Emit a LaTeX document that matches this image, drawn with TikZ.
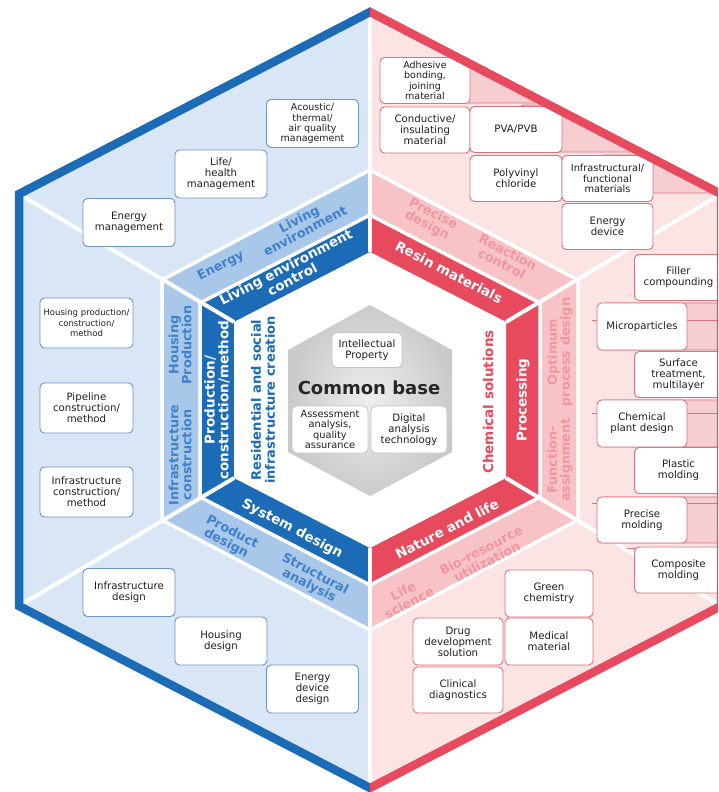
\documentclass[tikz,border=0pt]{standalone}
\usepackage{fontspec}
\setmainfont{DejaVu Sans}
\hyphenpenalty=10000
\exhyphenpenalty=10000
\definecolor{bdark}{HTML}{1B6BB6}
\definecolor{blight}{HTML}{A9C7E9}
\definecolor{bpale}{HTML}{D8E6F5}
\definecolor{btext}{HTML}{3F82CC}
\definecolor{bline}{HTML}{6A96C8}
\definecolor{rdark}{HTML}{E84A5D}
\definecolor{rlight}{HTML}{F7C3C6}
\definecolor{rpale}{HTML}{FCE3E4}
\definecolor{rstep}{HTML}{F6CDD0}
\definecolor{rtext}{HTML}{F0979E}
\definecolor{rline}{HTML}{D9737E}
\definecolor{gline}{HTML}{C4C4C4}
\begin{document}
\begin{tikzpicture}[x=1pt,y=-1pt,
  cell/.style={draw, line width=0.9pt, fill=white, rounded corners=4.5pt, align=center,
    text=black!88, font=\fontsize{10.2}{11}\selectfont, inner sep=1pt, text width=86pt},
  bcell/.style={cell, draw=bline, minimum width=92pt, minimum height=48pt},
  rcell/.style={cell, draw=rline, minimum width=90pt, minimum height=46pt},
  ccell/.style={cell, draw=gline, text width=72pt, minimum width=76pt, minimum height=47pt},
  wide/.style={minimum width=87pt},
  small4/.style={font=\fontsize{9.5}{10.2}\selectfont},
  lband/.style={align=center, font=\fontsize{12.8}{13}\selectfont\bfseries, inner sep=0pt},
  dband/.style={align=center, font=\fontsize{13.5}{13.8}\selectfont\bfseries, text=white, inner sep=0pt},
  sep/.style={white, line width=3.5pt},
  stepfill/.style={draw=rline, fill=rstep, line width=0.9pt, rounded corners=4pt},
  stepline/.style={draw=rline, line width=0.9pt}
]
\useasboundingbox (0,0) rectangle (718,792);
\clip (0,0) rectangle (718,792);

% outer hexagon (centre line of the thick border)
\coordinate (O1) at (370,12);  \coordinate (O2) at (19,194);  \coordinate (O3) at (19,606);
\coordinate (O4) at (370,788); \coordinate (O5) at (721,606); \coordinate (O6) at (721,194);
% light ring
\coordinate (L1) at (370,170); \coordinate (L2) at (162,280); \coordinate (L3) at (162,520);
\coordinate (L4) at (370,630); \coordinate (L5) at (578,520); \coordinate (L6) at (578,280);
% dark ring
\coordinate (D1) at (370,215); \coordinate (D2) at (200,303); \coordinate (D3) at (200,497);
\coordinate (D4) at (370,585); \coordinate (D5) at (540,497); \coordinate (D6) at (540,303);
% inner white hexagon
\coordinate (I1) at (370,252); \coordinate (I2) at (234,322); \coordinate (I3) at (234,478);
\coordinate (I4) at (370,548); \coordinate (I5) at (506,478); \coordinate (I6) at (506,322);
% central grey hexagon
\coordinate (G1) at (370,305); \coordinate (G2) at (288,350); \coordinate (G3) at (288,452);
\coordinate (G4) at (370,496); \coordinate (G5) at (452,452); \coordinate (G6) at (452,350);

% outer sectors
\fill[bpale] (O1)--(O2)--(O3)--(O4)--cycle;
\fill[rpale] (O1)--(O6)--(O5)--(O4)--cycle;
% light ring
\fill[blight] (L1)--(L2)--(L3)--(L4)--cycle;
\fill[rlight] (L1)--(L6)--(L5)--(L4)--cycle;
\draw[sep] (L1)--(L2)--(L3)--(L4)--(L5)--(L6)--cycle;
% dark ring
\fill[bdark] (D1)--(D2)--(D3)--(D4)--cycle;
\fill[rdark] (D1)--(D6)--(D5)--(D4)--cycle;
\draw[sep] (D1)--(D2)--(D3)--(D4)--(D5)--(D6)--cycle;
% inner white hexagon
\fill[white] (I1)--(I2)--(I3)--(I4)--(I5)--(I6)--cycle;
% radial separators
\foreach \k in {1,...,6} { \draw[sep, line width=4pt] (O\k) -- (I\k); }

% common base hexagon
\shade[inner color={rgb,255:red,238;green,238;blue,238}, outer color={rgb,255:red,202;green,202;blue,202}]
  (G1)--(G2)--(G3)--(G4)--(G5)--(G6)--cycle;

% stepped rows behind the red boxes
\begin{scope}
  \clip (O1)--(O2)--(O3)--(O4)--(O5)--(O6)--cycle;
  \draw[stepfill] (465,-60) rectangle (800,103);
  \draw[stepfill] (520,105) rectangle (800,152);
  \draw[stepfill] (600,155) rectangle (800,193);
  \draw[stepfill] (600,303) rectangle (800,350);
  \draw[stepline] (592,320) -- (800,320);
  \draw[stepfill] (600,400) rectangle (800,447);
  \draw[stepline] (592,413) -- (800,413);
  \draw[stepfill] (600,497) rectangle (800,543);
  \draw[stepline] (592,503) -- (800,503);
  \draw[stepline] (627,548) -- (640,548);
\end{scope}

% blue boxes
\node[bcell, small4] (acoustic) at (312.5,123.5) {Acoustic/\\thermal/\\air quality\\management};
\node[bcell] (lifeh) at (221,174) {Life/\\health\\management};
\node[bcell] (energym) at (129,222.5) {Energy\\management};
\node[bcell, text width=91pt, minimum width=93pt, minimum height=50pt, font=\fontsize{8.5}{10.4}\selectfont] (housingp) at (86.5,323) {Housing production/\\construction/\\method};
\node[bcell, minimum width=93pt, minimum height=50pt] (pipeline) at (86.5,408) {Pipeline\\construction/\\method};
\node[bcell, minimum width=93pt, minimum height=50pt] (infrac) at (86.5,492) {Infrastructure\\construction/\\method};
\node[bcell] (infrad) at (129,592.5) {Infrastructure\\design};
\node[bcell] (housingd) at (221,641) {Housing\\design};
\node[bcell] (energydd) at (312.5,689) {Energy\\device\\design};

% red boxes
\node[rcell, small4] (adhesive) at (425,80.5) {Adhesive\\bonding,\\joining\\material};
\node[rcell] (conductive) at (425,130) {Conductive/\\insulating\\material};
\node[rcell, minimum width=92pt] (pvapvb) at (516,129.5) {PVA/PVB};
\node[rcell, minimum width=92pt] (pvc) at (516,178.5) {Polyvinyl\\chloride};
\node[rcell, minimum width=91pt, font=\fontsize{9.8}{10.8}\selectfont] (infram) at (607.5,178.5) {Infrastructural/\\functional\\materials};
\node[rcell, minimum width=91pt] (energyd) at (607.5,226.5) {Energy\\device};
\node[rcell, wide] (filler) at (678.5,277.5) {Filler\\compounding};
\node[rcell, minimum height=47pt] (micro) at (642,326.5) {Microparticles};
\node[rcell, wide] (surface) at (678.5,374.5) {Surface\\treatment,\\multilayer};
\node[rcell, minimum height=47pt] (cplant) at (642,423.5) {Chemical\\plant design};
\node[rcell, wide] (plastic) at (678.5,470.5) {Plastic\\molding};
\node[rcell] (pmold) at (642,520) {Precise\\molding};
\node[rcell, wide] (composite) at (678.5,570) {Composite\\molding};
\node[rcell, minimum width=88pt, minimum height=47pt] (green) at (549,593.5) {Green\\chemistry};
\node[rcell, minimum height=47pt] (drug) at (458,641.5) {Drug\\development\\solution};
\node[rcell, minimum width=88pt, minimum height=47pt] (medical) at (549,641.5) {Medical\\material};
\node[rcell] (clinical) at (458,690) {Clinical\\diagnostics};

% common base
\node[ccell, text width=66pt, minimum width=70pt, minimum height=35pt] (ip) at (367,350) {Intellectual\\Property};
\node[font=\fontsize{18}{20}\selectfont\bfseries, text=black!85, inner sep=0pt] (common) at (369,388) {Common base};
\node[ccell, font=\fontsize{9.8}{10.6}\selectfont] (assess) at (330,429.5) {Assessment\\analysis,\\quality\\assurance};
\node[ccell] (digital) at (409,429.5) {Digital\\analysis\\technology};

% light ring labels
\node[lband, text=btext, rotate=27.5] (energy) at (221,266) {Energy};
\node[lband, text=btext, rotate=27.5] (livingenv) at (302,225) {Living\\environment};
\node[lband, text=btext, rotate=90] (housing) at (180,345) {Housing\\Production};
\node[lband, text=btext, rotate=90] (infra) at (180,455) {Infrastructure\\construction};
\node[lband, text=btext, rotate=-27.5] (product) at (229,538) {Product\\design};
\node[lband, text=btext, rotate=-27.5] (structural) at (312,580) {Structural\\analysis};
\node[lband, text=rtext, rotate=-27.5] (precise) at (430,220) {Precise\\design};
\node[lband, text=rtext, rotate=-27.5] (reaction) at (505,258) {Reaction\\control};
\node[lband, text=rtext, rotate=90] (optimum) at (560,352) {Optimum\\process design};
\node[lband, text=rtext, rotate=90] (function) at (560,460) {Function-\\assignment};
\node[lband, text=rtext, rotate=27.5] (life) at (406,597) {Life\\science};
\node[lband, text=rtext, rotate=27.5] (bio) at (484,556) {Bio-resource\\utilization};

% dark ring labels
\node[dband, rotate=27.5] (livingctl) at (289,273) {Living environment\\control};
\node[dband, rotate=90] (production) at (217,400) {Production/\\construction/method};
\node[dband, rotate=-27.5] (system) at (292,529) {System design};
\node[dband, rotate=-27.5] (resin) at (449,272) {Resin materials};
\node[dband, rotate=90] (processing) at (523,400) {Processing};
\node[dband, rotate=27.5] (nature) at (447,529) {Nature and life};

% inner titles
\node[dband, text=bdark, font=\fontsize{13}{13.8}\selectfont\bfseries, rotate=90] (residential) at (263,400) {Residential and social\\infrastructure creation};
\node[dband, text=rdark, rotate=90] (chemical) at (488,402) {Chemical solutions};

% thick outer border
\begin{scope}
  \clip (-20,-20) rectangle (370,820);
  \draw[bdark, line width=8.5pt, line join=miter] (O1)--(O2)--(O3)--(O4)--(O5)--(O6)--cycle;
\end{scope}
\begin{scope}
  \clip (370,-20) rectangle (760,820);
  \draw[rdark, line width=8.5pt, line join=miter] (O1)--(O2)--(O3)--(O4)--(O5)--(O6)--cycle;
\end{scope}
\end{tikzpicture}
\end{document}
